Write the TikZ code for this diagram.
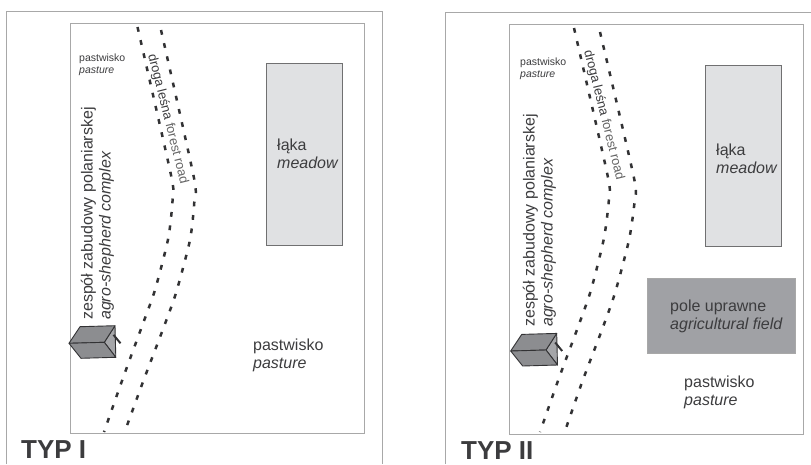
\documentclass[tikz,border=0pt]{standalone}
\usepackage{fontspec}
\setmainfont{Liberation Sans}
\definecolor{FrameGrey}{RGB}{168, 168, 168}
\definecolor{RoadDark}{RGB}{50, 50, 52}
\definecolor{TextDark}{RGB}{60, 60, 62}
\definecolor{MeadowGrey}{RGB}{224, 225, 227}
\definecolor{FieldGrey}{RGB}{160, 161, 165}
\definecolor{HouseGrey}{RGB}{140, 141, 144}
\definecolor{HouseLight}{RGB}{165, 166, 169}
\tikzset{
  frameline/.style={draw=FrameGrey, line width=0.9pt},
  roadline/.style={draw=RoadDark, line width=2.5pt, dash pattern=on 4.8pt off 8.7pt},
  arealabel/.style={text=TextDark, anchor=west, align=left, inner sep=0pt, font=\fontsize{16}{18}\selectfont},
  smalllabel/.style={arealabel, font=\fontsize{10.5}{12}\selectfont},
  complexlabel/.style={arealabel, rotate=90, font=\fontsize{16}{18}\selectfont},
  roadlabel/.style={arealabel, rotate=-76, font=\fontsize{13}{14}\selectfont},
  typelabel/.style={text=TextDark, anchor=west, inner sep=0pt, font=\fontsize{26}{28}\selectfont\bfseries},
  meadow/.style={draw=RoadDark!70, line width=1pt, fill=MeadowGrey},
  field/.style={draw=FrameGrey, line width=0.8pt, fill=FieldGrey},
  housewall/.style={draw=RoadDark, line width=0.9pt, line join=round, fill=HouseGrey},
  houseside/.style={draw=RoadDark, line width=0.9pt, line join=round, fill=HouseLight},
  housestick/.style={draw=RoadDark, line width=2pt},
}
% one farm building, #1 is the shift of the whole block
\newcommand{\farmhouse}[1]{
  \begin{scope}[shift={(#1)}]
    \fill[houseside] (46,0.4) -- (35.3,17) -- (46.8,32) -- cycle;
    \draw[housewall] (0,18) -- (11,1.4) -- (46,0.4) -- (35.3,17) -- cycle;
    \draw[housewall] (0,18) -- (12,33) -- (46.8,32) -- (35.3,17) -- cycle;
    \draw[housestick] (44.5,9.5) -- (51.5,18);
  \end{scope}
}

\begin{document}
\begin{tikzpicture}[x=1pt, y=-1pt]
\useasboundingbox (0,0) rectangle (811,464);

% TYP I
\draw[frameline] (6.5,464) -- (6.5,11.5) -- (382,11.5) -- (382,464);
\draw[frameline] (70.5,23) rectangle (364.5,433);
\draw[meadow] (266.5,63) rectangle (342,245);
\draw[roadline] plot[smooth, tension=0.4] coordinates {(137.5,27) (171,175) (172.7,198) (168.3,238) (155,290) (141.7,327) (123,378) (104,432)};
\draw[roadline] plot[smooth, tension=0.4] coordinates {(161,30) (194,178) (194.3,202) (190,240) (176,293) (162.3,331) (143.3,381) (124.3,433)};
\node[smalllabel] (pasture1a) at (79,65) {pastwisko\\\textit{pasture}};
\node[roadlabel] (road1) at (151.5,54) {droga leśna \textcolor{FrameGrey!60!black}{forest road}};
\node[complexlabel] (complex1) at (97.5,320) {zespół zabudowy polaniarskej\\\textit{agro-shepherd complex}};
\node[arealabel] (meadow1) at (277,154) {łąka\\\textit{meadow}};
\node[arealabel] (pasture1b) at (253,355) {pastwisko\\\textit{pasture}};
\node[typelabel] (type1) at (21,450) {TYP I};
\farmhouse{69,325.3}

% TYP II
\draw[frameline] (445.5,464) -- (445.5,12.5) -- (811,12.5);
\draw[frameline] (509.5,24) rectangle (803,434);
\draw[meadow] (705.5,65) rectangle (781,246);
\draw[field] (647,278) rectangle (795,353);
\draw[roadline] plot[smooth, tension=0.4] coordinates {(574,28) (607.5,175) (609,198) (604,238) (591,290) (578,327) (559,378) (540,432)};
\draw[roadline] plot[smooth, tension=0.4] coordinates {(600,32) (634,178) (634.5,202) (629,240) (615,293) (601.5,331) (582.5,381) (564,434)};
\node[smalllabel] (pasture2a) at (520,69) {pastwisko\\\textit{pasture}};
\node[roadlabel] (road2) at (587.5,50) {droga leśna \textcolor{FrameGrey!60!black}{forest road}};
\node[complexlabel] (complex2) at (539.5,327) {zespół zabudowy polaniarskej\\\textit{agro-shepherd complex}};
\node[arealabel] (meadow2) at (716,159) {łąka\\\textit{meadow}};
\node[arealabel] (field2) at (670,316.5) {pole uprawne\\\textit{agricultural field}};
\node[arealabel] (pasture2b) at (684,392.5) {pastwisko\\\textit{pasture}};
\node[typelabel] (type2) at (461,451) {TYP II};
\farmhouse{510.7,333}
\end{tikzpicture}
\end{document}
